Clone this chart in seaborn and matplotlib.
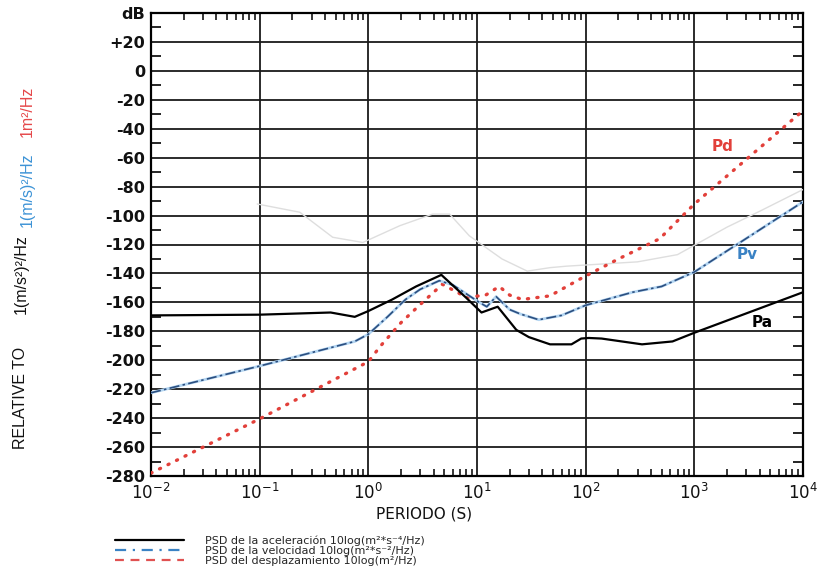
import numpy as np
import pandas as pd
import seaborn as sns
import matplotlib.pyplot as plt
from matplotlib.lines import Line2D
from matplotlib.ticker import FixedLocator, LogLocator, NullFormatter

# Power spectral density curves vs. period (s), values in dB
pa_period = [0.01, 0.1, 0.45, 0.75, 1.0, 1.66, 2.75, 4.7, 8, 11, 15.5, 23, 30, 47, 74, 91, 107, 140, 330, 630, 1000, 10000]
pa_db = [-169, -168.5, -167, -170, -166, -158, -149, -141, -157, -167, -163, -179, -184, -189, -189, -185, -184.6, -185, -189, -187, -181, -153]

pv_period = [0.01, 0.1, 0.75, 1.0, 1.5, 2.2, 3, 4.5, 6, 10.5, 12.3, 15, 20, 25, 37, 60, 100, 270, 500, 1000, 10000]
pv_db = [-222.5, -204, -187, -182, -170, -158, -151, -145, -148, -160, -163, -156, -165, -168, -172, -169, -162, -153, -149, -139, -90.5]

pd_period = [0.01, 0.1, 1.0, 1.3, 2.0, 3.0, 4.8, 8, 12, 16, 20, 26, 47, 93, 200, 480, 1000, 10000]
pd_db = [-278, -240.5, -201, -190, -174, -161.5, -147.5, -156.5, -155, -149, -155, -158, -155.5, -143, -130, -116, -92, -27.5]

# faint background reference curve
ref_period = [0.095, 0.234, 0.47, 0.89, 1.95, 3.9, 5.6, 8.5, 17, 29, 47, 66, 300, 700, 2000, 4000, 10000]
ref_db = [-92, -97.7, -115, -118.6, -107, -99, -99, -114, -130, -138.4, -136, -135, -132, -127, -108, -97, -82]

decades = [1e-2, 1e-1, 1e0, 1e1, 1e2, 1e3, 1e4]
decade_labels = [r'$10^{-2}$', r'$10^{-1}$', r'$10^{0}$', r'$10^{1}$', r'$10^{2}$', r'$10^{3}$', r'$10^{4}$']
db_ticks = list(range(40, -281, -20))
db_labels = ['dB', '+20', '0'] + [f'-{abs(v)}' for v in range(-20, -281, -20)]

legend_labels = [
    'PSD de la aceleración 10log(m²*s⁻⁴/Hz)',
    'PSD de la velocidad 10log(m²*s⁻²/Hz)',
    'PSD del desplazamiento 10log(m²/Hz)',
]

RED = '#e2403a'
BLUE = '#3a82c4'
NAVY = '#2c4f80'

sns.set_theme(style='white')
plt.rcParams['font.family'] = ['DejaVu Sans']

fig = plt.figure(figsize=(8.23, 5.75), dpi=100)
ax = fig.add_axes([151 / 823, 1 - 476 / 575, 652 / 823, 463 / 575])

ref = pd.DataFrame({'T': ref_period, 'dB': ref_db})
acc = pd.DataFrame({'T': pa_period, 'dB': pa_db})
vel = pd.DataFrame({'T': pv_period, 'dB': pv_db})
dis = pd.DataFrame({'T': pd_period, 'dB': pd_db})

sns.lineplot(data=ref, x='T', y='dB', ax=ax, color='#dedede', lw=1.0, zorder=3)
sns.lineplot(data=dis, x='T', y='dB', ax=ax, color=RED, lw=2.4,
             linestyle=(0, (0.35, 2.5)), dash_capstyle='round', zorder=4)
sns.lineplot(data=vel, x='T', y='dB', ax=ax, color='#b4d6f2', lw=2.0, zorder=5)
sns.lineplot(data=vel, x='T', y='dB', ax=ax, color=NAVY, lw=1.2,
             linestyle=(0, (6, 2, 1.5, 2)), zorder=6)
sns.lineplot(data=acc, x='T', y='dB', ax=ax, color='black', lw=1.6, zorder=7)

ax.set_xscale('log')
ax.set_xlim(1e-2, 1e4)
ax.set_ylim(-280, 40)

ax.set_yticks(db_ticks)
ax.set_yticklabels(db_labels, fontsize=11.5, fontweight='bold', color='#111111')
ax.yaxis.set_minor_locator(FixedLocator(list(range(-270, 40, 20))))
ax.tick_params(axis='y', which='major', length=0, pad=4)
ax.tick_params(axis='y', which='minor', direction='in', length=7, width=1.2,
               left=True, right=True, color='black')

ax.set_xticks(decades)
ax.set_xticklabels(decade_labels, fontsize=12, color='#111111')
ax.xaxis.set_minor_locator(LogLocator(base=10, subs=np.arange(2, 10), numticks=40))
ax.xaxis.set_minor_formatter(NullFormatter())
ax.tick_params(axis='x', which='major', length=0, pad=5)
ax.tick_params(axis='x', which='minor', direction='in', length=5, width=1.1,
               top=True, bottom=True, color='black')

ax.grid(True, which='major', color='#1a1a1a', lw=1.3)
ax.set_axisbelow(True)
for s in ax.spines.values():
    s.set_color('black')
    s.set_linewidth(1.6)

ax.set_xlabel('PERIODO (S)', fontsize=11, color='#111111')
ax.set_ylabel('')
ax.xaxis.set_label_coords((424 - 151) / 652, -0.066)

# curve labels
ax.text(1806, -52, 'Pd', color=RED, fontsize=11, fontweight='bold', ha='center', va='center', zorder=8)
ax.text(3070, -127, 'Pv', color=BLUE, fontsize=11, fontweight='bold', ha='center', va='center', zorder=8)
ax.text(4220, -174, 'Pa', color='black', fontsize=11, fontweight='bold', ha='center', va='center', zorder=8)

# multi-colour vertical axis caption
cap = dict(rotation=90, ha='center', va='center', fontsize=11.5, family='Liberation Sans')
fig.text(21 / 823, 1 - 398 / 575, 'RELATIVE TO', color='#111111', **cap)
fig.text(21 / 823, 1 - 274 / 575, '1(m/s²)²/Hz', color='#111111', **cap)
fig.text(27 / 823, 1 - 190 / 575, '1(m/s)²/Hz', color='#3d93d6', **cap)
fig.text(27 / 823, 1 - 111 / 575, '1m²/Hz', color='#e5484a', **cap)

handles = [
    Line2D([], [], color='black', lw=1.6),
    Line2D([], [], color=BLUE, lw=1.6, linestyle=(0, (5, 3, 1, 3))),
    Line2D([], [], color='#e05252', lw=1.6, linestyle=(0, (4, 3))),
]
fig.legend(handles, legend_labels, loc='upper left', bbox_to_anchor=(115 / 823, 1 - 535 / 575),
           frameon=False, fontsize=8, handlelength=6.2, handletextpad=1.9,
           labelspacing=0.0, borderpad=0, borderaxespad=0)

fig.savefig('out.png', dpi=100, facecolor='white')
